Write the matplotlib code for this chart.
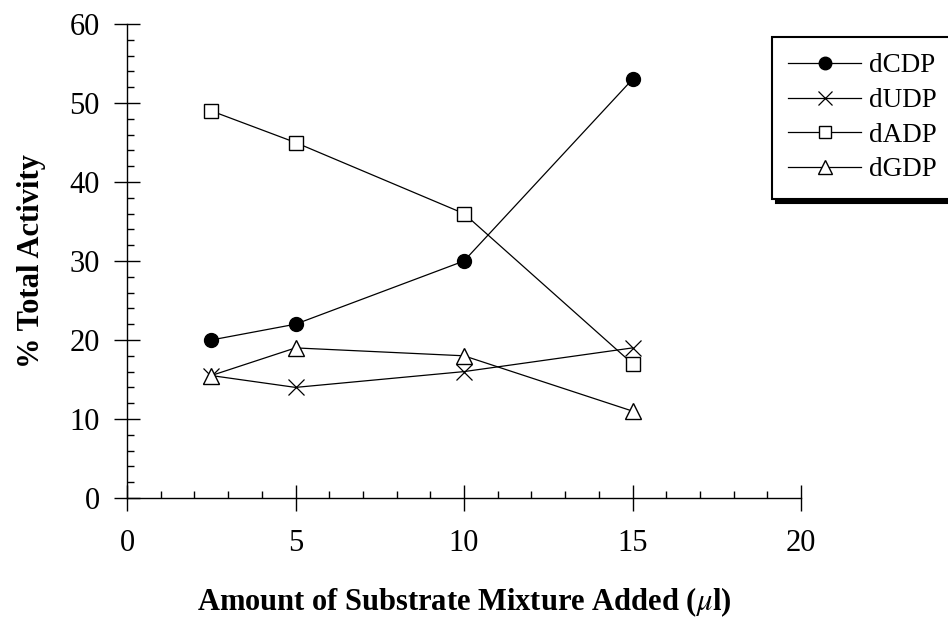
import matplotlib

matplotlib.use("Agg")
import matplotlib.pyplot as plt
from matplotlib.ticker import MultipleLocator

plt.rcParams["font.family"] = ["Liberation Serif", "DejaVu Serif"]
plt.rcParams["mathtext.fontset"] = "stix"

amount = [2.5, 5, 10, 15]
dcdp = [20, 22, 30, 53]
dudp = [15.5, 14, 16, 19]
dadp = [49, 45, 36, 17]
dgdp = [15.5, 19, 18, 11]

series = [
    ("dCDP", dcdp, dict(marker="o", markersize=10, markerfacecolor="black")),
    ("dUDP", dudp, dict(marker="x", markersize=11, markeredgewidth=0.9)),
    ("dADP", dadp, dict(marker="s", markersize=10, markerfacecolor="white")),
    ("dGDP", dgdp, dict(marker="^", markersize=11, markerfacecolor="white")),
]

fig = plt.figure(figsize=(9.48, 6.21), dpi=100)
ax = fig.add_axes([127 / 948, 1 - 498 / 621, 674 / 948, 474 / 621])

for name, vals, style in series:
    ax.plot(amount, vals, color="black", linewidth=0.9, markeredgecolor="black",
            label=name, **style)

ax.set_xlim(0, 20)
ax.set_ylim(0, 60)
ax.xaxis.set_major_locator(MultipleLocator(5))
ax.xaxis.set_minor_locator(MultipleLocator(1))
ax.yaxis.set_major_locator(MultipleLocator(10))
ax.yaxis.set_minor_locator(MultipleLocator(2))
ax.tick_params(which="major", direction="inout", length=19, width=1, labelsize=22)
ax.tick_params(axis="y", which="major", pad=10)
ax.tick_params(axis="x", which="major", pad=12.5)
ax.tick_params(which="minor", direction="in", length=5, width=1)
for side in ("top", "right"):
    ax.spines[side].set_visible(False)
for side in ("left", "bottom"):
    ax.spines[side].set_linewidth(1)

ax.set_xlabel("Amount of Substrate Mixture Added ($\\mu$l)", fontsize=22,
              fontweight="bold", labelpad=20)
ax.set_ylabel("% Total Activity", fontsize=22, fontweight="bold", labelpad=17)

# box starts at (772, 37) px and runs past the right edge, like the scan
leg_h = 0.3
leg = ax.legend(loc="upper left",
                bbox_to_anchor=(772 / 948, 1 - 37 / 621 - leg_h, 0.3, leg_h),
                bbox_transform=fig.transFigure, mode="expand", frameon=True,
                fancybox=False, edgecolor="black", fontsize=19.5, handlelength=2.7,
                labelspacing=0.36, borderpad=0.6, handletextpad=0.3, borderaxespad=0,
                markerscale=0.9,
                shadow={"color": "black", "ox": 3, "oy": -3, "alpha": 1})
leg.get_frame().set_linewidth(1.5)

fig.savefig("out.png", dpi=100)
